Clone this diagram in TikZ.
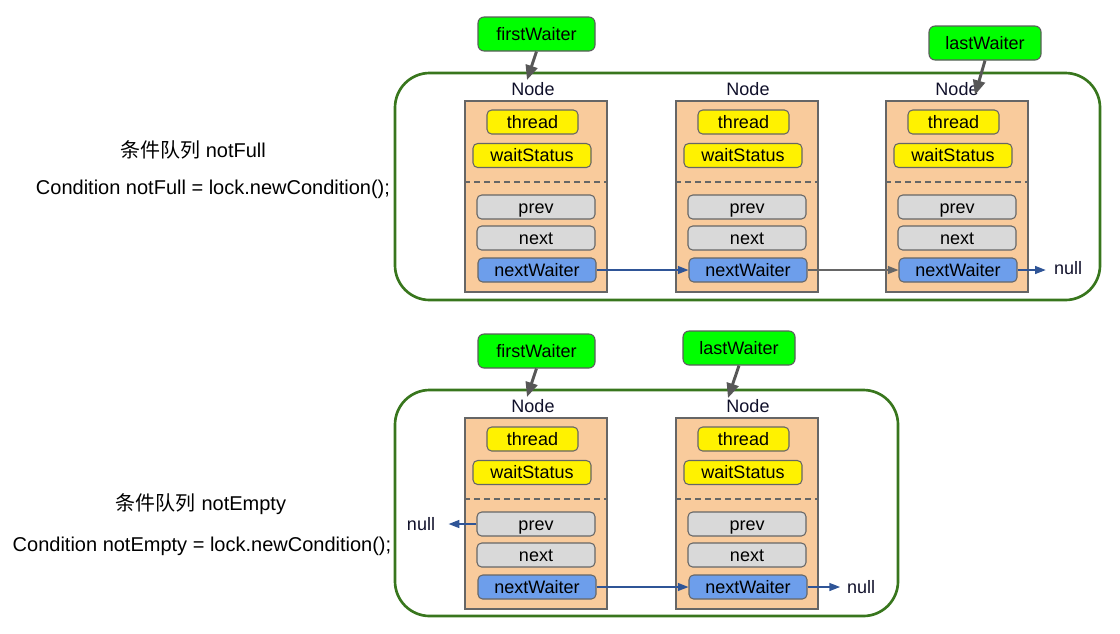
\documentclass[tikz,border=0pt]{standalone}
\usepackage{fontspec}
\setmainfont{Liberation Sans}
\newfontfamily\cjk{Noto Sans CJK SC}
\usetikzlibrary{arrows.meta}
\definecolor{framegreen}{HTML}{38761D}
\definecolor{nodeorange}{HTML}{F9CB9C}
\definecolor{fieldgray}{HTML}{D9D9D9}
\definecolor{fieldblue}{HTML}{6D9EEB}
\definecolor{ptrgreen}{HTML}{00FF00}
\definecolor{edgegray}{HTML}{666666}
\definecolor{linkblue}{HTML}{2F5597}
\definecolor{inkdark}{HTML}{10102A}
\tikzset{
  queue/.style={draw=framegreen, line width=2pt, rounded corners=26pt},
  nodebox/.style={draw=edgegray, fill=nodeorange, line width=0.8pt, inner sep=0pt,
    minimum width=142*0.75pt, minimum height=191*0.75pt},
  small/.style={font=\fontsize{13.5}{16}\selectfont, text height=12.4pt, text depth=2.7pt},
  field/.style={draw=edgegray, line width=0.8pt, rounded corners=3.5pt, inner sep=0pt,
    minimum height=24*0.75pt, small, text=black},
  yfield/.style={field, fill=yellow},
  gfield/.style={field, fill=fieldgray, minimum width=118*0.75pt},
  bfield/.style={field, fill=fieldblue, minimum width=118*0.75pt},
  ptr/.style={draw=edgegray!90!black, fill=ptrgreen, line width=0.8pt, rounded corners=4.5pt,
    inner sep=0pt, minimum width=117*0.75pt, minimum height=34*0.75pt, small},
  tag/.style={inner sep=0pt, small, text=inkdark},
  caption/.style={inner sep=0pt, font=\fontsize{15}{18}\selectfont,
    text height=13.8pt, text depth=3pt, text=black},
  ptrarrow/.style={draw=edgegray!85!black, line width=2.2pt,
    -{Triangle[length=11pt,width=9pt]}},
  link/.style={draw=linkblue, line width=1pt, -{Triangle[length=8pt,width=6pt]}},
  graylink/.style={draw=edgegray, line width=1pt, -{Triangle[length=8pt,width=6pt]}},
  sep/.style={draw=edgegray, line width=0.8pt, dash pattern=on 4.5pt off 3pt}
}
\begin{document}
\begin{tikzpicture}[x=0.75pt,y=-0.75pt]
\useasboundingbox (0,0) rectangle (1120,633);

% the two condition queues
\draw[queue] (395,73) rectangle (1100,300);
\draw[queue] (395,390) rectangle (898,616);

% captions on the left
\node[caption] (capA) at (193,150) {{\cjk 条件队列} notFull};
\node[caption] (codeA) at (213,187) {Condition notFull = lock.newCondition();};
\node[caption] (capB) at (201,503) {{\cjk 条件队列} notEmpty};
\node[caption] (codeB) at (202,544) {Condition notEmpty = lock.newCondition();};

% waiter nodes
\foreach \n/\x/\y/\l in {a/465/101/68, b/676/101/72, c/886/101/71, d/465/418/68, e/676/418/72} {
  \node[nodebox] (\n) at (\x+71,\y+95.5) {};
  \node[tag] (\n-label) at (\x+\l,\y-12) {Node};
  \node[yfield, minimum width=91*0.75pt] (\n-thread) at (\x+67.5,\y+21) {thread};
  \node[yfield, minimum width=118*0.75pt] (\n-ws) at (\x+67,\y+54.5) {waitStatus};
  \draw[sep] (\n.west |- 0,\y+81) -- (\n.east |- 0,\y+81);
  \node[gfield] (\n-prev) at (\x+71,\y+106) {prev};
  \node[gfield] (\n-next) at (\x+71,\y+137) {next};
  \node[bfield] (\n-nw) at (\x+72,\y+169) {nextWaiter};
}

% head / tail pointers
\node[ptr] (fwA) at (536.5,34) {firstWaiter};
\node[ptr, minimum width=112*0.75pt] (lwA) at (985,43) {lastWaiter};
\node[ptr] (fwB) at (536.5,351) {firstWaiter};
\node[ptr, minimum width=112*0.75pt] (lwB) at (739,348) {lastWaiter};
\coordinate (fwA-tip) at (527,80);
\coordinate (lwA-tip) at (975,95);
\coordinate (fwB-tip) at (527,397);
\coordinate (lwB-tip) at (728,398);
\draw[ptrarrow] (fwA.south) -- (fwA-tip);
\draw[ptrarrow] (lwA.south) -- (lwA-tip);
\draw[ptrarrow] (fwB.south) -- (fwB-tip);
\draw[ptrarrow] (lwB.south) -- (lwB-tip);

% nextWaiter chain and null ends
\node[tag] (nullA) at (1068,268) {null};
\node[tag] (nullB) at (861,587) {null};
\node[tag] (nullP) at (421,524) {null};
\draw[link] (a-nw.east) -- (b-nw.west);
\draw[graylink] (b-nw.east) -- (c-nw.west);
\draw[link, shorten >=6pt] (c-nw.east) -- (nullA.west |- c-nw.east);
\draw[link] (d-nw.east) -- (e-nw.west);
\draw[link, shorten >=5pt] (e-nw.east) -- (nullB.west |- e-nw.east);
\draw[link, shorten >=10pt] (d-prev.west) -- (nullP.east |- d-prev.west);
\end{tikzpicture}
\end{document}
